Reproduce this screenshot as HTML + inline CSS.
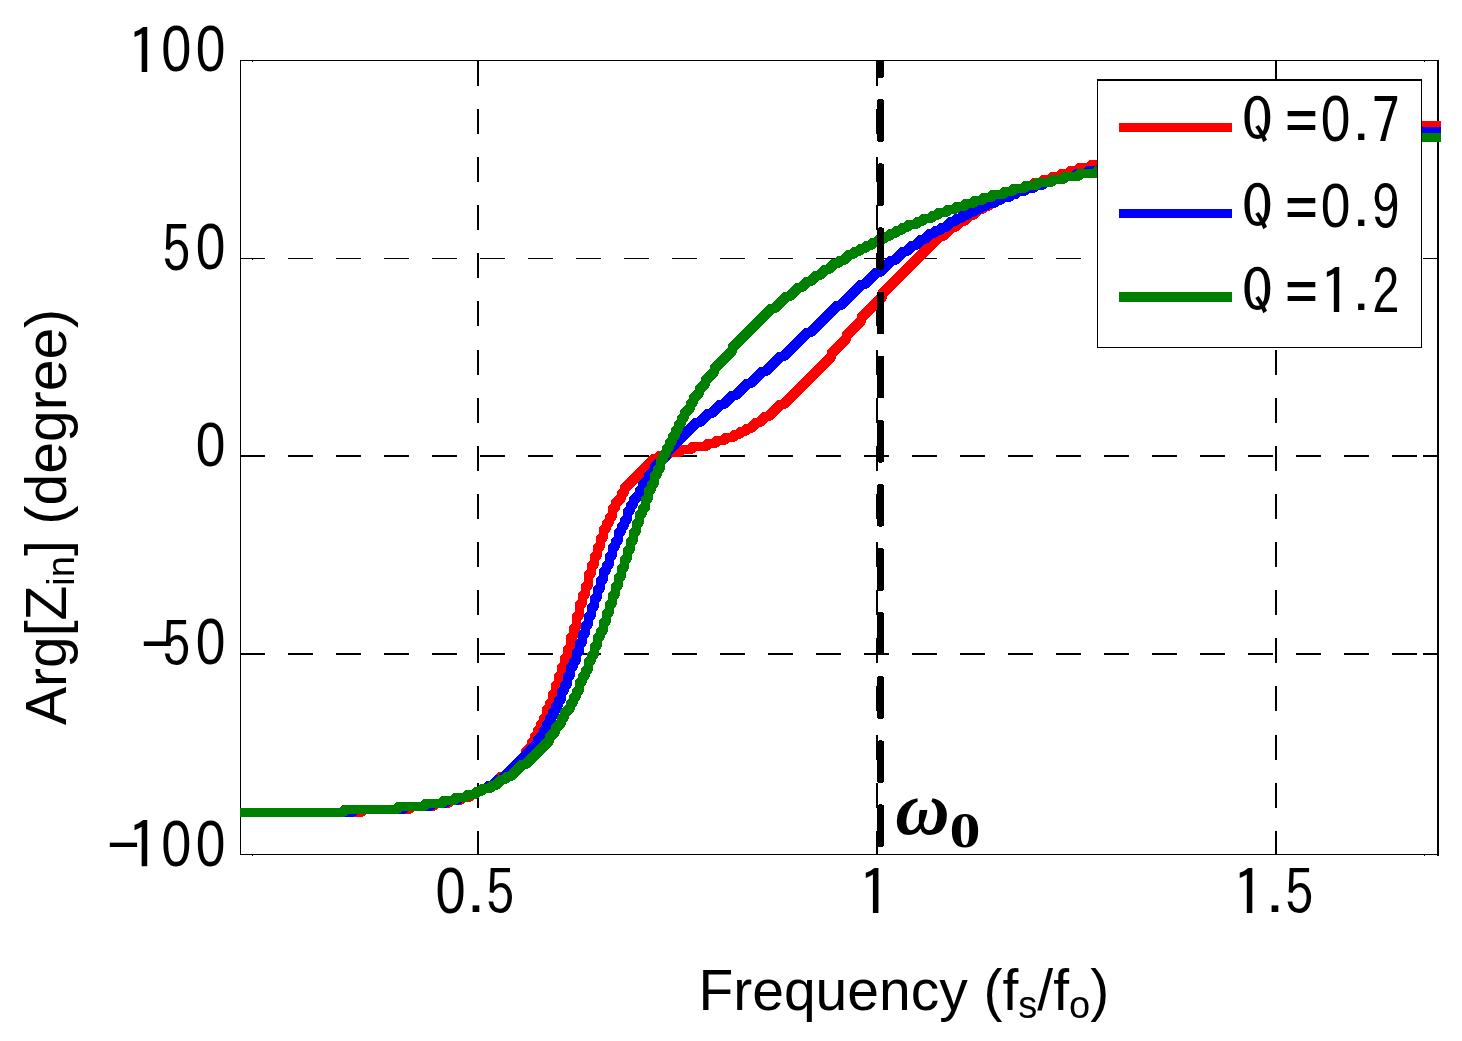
<!DOCTYPE html>
<html lang="en"><head><meta charset="utf-8"><title>Arg[Zin] vs Frequency</title>
<style>html,body{margin:0;padding:0;background:#fff;overflow:hidden}svg{display:block}</style></head>
<body>
<svg width="1462" height="1041" viewBox="0 0 1462 1041" shape-rendering="crispEdges">
<rect width="1462" height="1041" fill="#fff"/>
<g stroke="#000" fill="none">
<line x1="478" y1="60" x2="478" y2="854" stroke-width="2" stroke-dasharray="25 23.125" stroke-dashoffset="-0.8"/>
<line x1="877" y1="60" x2="877" y2="854" stroke-width="2" stroke-dasharray="25 23.125" stroke-dashoffset="-0.8"/>
<line x1="1276" y1="60" x2="1276" y2="854" stroke-width="2" stroke-dasharray="25 23.125" stroke-dashoffset="-0.8"/>
<line x1="240" y1="258.5" x2="1438" y2="258.5" stroke-width="1" stroke-dasharray="25 23"/>
<line x1="240" y1="456" x2="1438" y2="456" stroke-width="2" stroke-dasharray="25 23"/>
<line x1="240" y1="654" x2="1438" y2="654" stroke-width="2" stroke-dasharray="25 23"/>
<line x1="1423" y1="258.5" x2="1438" y2="258.5" stroke-width="1"/>
<line x1="1423" y1="456" x2="1438" y2="456" stroke-width="2"/>
<line x1="1423" y1="654" x2="1438" y2="654" stroke-width="2"/>
</g>
<g stroke="#000" fill="none">
<rect x="240.5" y="60.5" width="1197" height="794" stroke-width="1"/>
<line x1="1438" y1="60" x2="1438" y2="856" stroke-width="2"/>
<path d="M252 61h1v1h-1zM1424 61h1v1h-1zM252 855h1v1h-1zM1424 855h1v1h-1zM252 259h1v1h-1z" fill="#000" stroke="none"/>
</g>
<clipPath id="c"><rect x="240" y="61" width="1201" height="793"/></clipPath>
<g clip-path="url(#c)"><g transform="matrix(4.5700 0.5300 0.5300 4.5700 0 0)" fill="none" stroke-width="2" stroke-linejoin="round">
<polyline points="31.112,174.182 59.059,170.941 59.802,170.198 69.783,169.040 70.526,168.298 75.183,167.758 75.926,167.015 78.588,166.706 79.330,165.964 81.326,165.732 82.069,164.990 83.400,164.835 84.142,164.093 84.808,164.016 85.550,163.273 86.216,163.196 86.958,162.453 87.624,162.376 88.366,161.634 89.032,161.556 91.259,159.329 91.925,159.252 97.123,154.054 97.200,153.388 98.685,151.903 98.762,151.238 99.505,150.495 99.582,149.830 100.325,149.087 100.402,148.422 101.144,147.679 101.222,147.014 101.964,146.271 102.041,145.606 102.784,144.863 102.938,143.532 103.681,142.790 103.758,142.124 104.501,141.382 104.655,140.051 105.397,139.308 105.552,137.978 106.294,137.235 106.449,135.904 107.191,135.162 107.346,133.831 108.088,133.088 108.243,131.757 108.985,131.015 109.139,129.684 109.882,128.941 110.114,126.945 110.856,126.203 111.010,124.872 111.753,124.129 111.985,122.133 112.727,121.391 112.959,119.394 113.701,118.652 113.856,117.321 114.598,116.578 114.752,115.248 115.495,114.505 115.727,112.509 116.469,111.766 116.623,110.435 117.366,109.693 117.520,108.362 118.263,107.619 118.417,106.289 119.160,105.546 119.314,104.215 120.057,103.473 120.211,102.142 120.954,101.399 121.031,100.734 121.773,99.991 121.851,99.326 122.593,98.583 122.748,97.252 123.490,96.510 123.567,95.844 125.052,94.359 125.130,93.694 125.872,92.951 125.949,92.286 133.375,84.860 134.040,84.783 134.783,84.040 136.114,83.886 136.856,83.144 138.853,82.912 139.595,82.169 141.591,81.938 142.334,81.195 144.996,80.887 145.738,80.144 147.069,79.990 147.812,79.247 149.142,79.093 149.885,78.350 151.216,78.196 151.958,77.453 152.624,77.376 153.366,76.634 154.032,76.556 154.774,75.814 155.440,75.737 156.925,74.252 157.590,74.174 159.075,72.689 159.741,72.612 162.711,69.642 163.377,69.565 175.258,57.683 175.335,57.018 179.048,53.305 179.125,52.640 182.838,48.927 182.915,48.262 188.113,43.063 188.190,42.398 202.299,28.289 202.964,28.212 205.192,25.984 205.858,25.907 207.343,24.422 208.008,24.345 209.493,22.860 210.159,22.782 211.644,21.297 212.309,21.220 213.052,20.478 213.717,20.400 214.460,19.658 215.125,19.581 215.868,18.838 216.533,18.761 217.276,18.018 217.941,17.941 218.684,17.199 219.349,17.121 220.092,16.379 220.757,16.302 221.500,15.559 222.831,15.405 223.573,14.662 224.238,14.585 224.981,13.842 226.312,13.688 227.054,12.946 228.385,12.791 229.128,12.049 230.459,11.894 231.201,11.152 232.532,10.997 233.275,10.255 234.605,10.100 235.348,9.358 237.344,9.126 238.087,8.384 240.083,8.152 240.826,7.410 242.822,7.178 243.564,6.436 246.226,6.127 246.969,5.384 249.630,5.076 250.373,4.333 253.700,3.947 254.442,3.205 257.769,2.819 258.512,2.076 262.504,1.613 263.247,0.871 267.905,0.331 268.647,-0.412 274.636,-1.107 275.379,-1.849 281.367,-2.544 282.110,-3.286 289.429,-4.135 290.172,-4.878 299.487,-5.958 300.230,-6.701 311.542,-8.013 312.285,-8.755 317.608,-9.372" stroke="#ff0000" stroke-width="1.1" shape-rendering="geometricPrecision"/><polyline points="31.112,174.182 59.059,170.941 59.802,170.198 69.783,169.040 70.526,168.298 75.183,167.758 75.926,167.015 78.588,166.706 79.330,165.964 81.326,165.732 82.069,164.990 83.400,164.835 84.142,164.093 84.808,164.016 85.550,163.273 86.216,163.196 86.958,162.453 87.624,162.376 88.366,161.634 89.032,161.556 91.259,159.329 91.925,159.252 97.123,154.054 97.200,153.388 98.685,151.903 98.762,151.238 99.505,150.495 99.582,149.830 100.325,149.087 100.402,148.422 101.144,147.679 101.222,147.014 101.964,146.271 102.041,145.606 102.784,144.863 102.938,143.532 103.681,142.790 103.758,142.124 104.501,141.382 104.655,140.051 105.397,139.308 105.552,137.978 106.294,137.235 106.449,135.904 107.191,135.162 107.346,133.831 108.088,133.088 108.243,131.757 108.985,131.015 109.139,129.684 109.882,128.941 110.114,126.945 110.856,126.203 111.010,124.872 111.753,124.129 111.985,122.133 112.727,121.391 112.959,119.394 113.701,118.652 113.856,117.321 114.598,116.578 114.752,115.248 115.495,114.505 115.727,112.509 116.469,111.766 116.623,110.435 117.366,109.693 117.520,108.362 118.263,107.619 118.417,106.289 119.160,105.546 119.314,104.215 120.057,103.473 120.211,102.142 120.954,101.399 121.031,100.734 121.773,99.991 121.851,99.326 122.593,98.583 122.748,97.252 123.490,96.510 123.567,95.844 125.052,94.359 125.130,93.694 125.872,92.951 125.949,92.286 133.375,84.860 134.040,84.783 134.783,84.040 136.114,83.886 136.856,83.144 138.853,82.912 139.595,82.169 141.591,81.938 142.334,81.195 144.996,80.887 145.738,80.144 147.069,79.990 147.812,79.247 149.142,79.093 149.885,78.350 151.216,78.196 151.958,77.453 152.624,77.376 153.366,76.634 154.032,76.556 154.774,75.814 155.440,75.737 156.925,74.252 157.590,74.174 159.075,72.689 159.741,72.612 162.711,69.642 163.377,69.565 175.258,57.683 175.335,57.018 179.048,53.305 179.125,52.640 182.838,48.927 182.915,48.262 188.113,43.063 188.190,42.398 202.299,28.289 202.964,28.212 205.192,25.984 205.858,25.907 207.343,24.422 208.008,24.345 209.493,22.860 210.159,22.782 211.644,21.297 212.309,21.220 213.052,20.478 213.717,20.400 214.460,19.658 215.125,19.581 215.868,18.838 216.533,18.761 217.276,18.018 217.941,17.941 218.684,17.199 219.349,17.121 220.092,16.379 220.757,16.302 221.500,15.559 222.831,15.405 223.573,14.662 224.238,14.585 224.981,13.842 226.312,13.688 227.054,12.946 228.385,12.791 229.128,12.049 230.459,11.894 231.201,11.152 232.532,10.997 233.275,10.255 234.605,10.100 235.348,9.358 237.344,9.126 238.087,8.384 240.083,8.152 240.826,7.410 242.822,7.178 243.564,6.436 246.226,6.127 246.969,5.384 249.630,5.076 250.373,4.333 253.700,3.947 254.442,3.205 257.769,2.819 258.512,2.076 262.504,1.613 263.247,0.871 267.905,0.331 268.647,-0.412 274.636,-1.107 275.379,-1.849 281.367,-2.544 282.110,-3.286 289.429,-4.135 290.172,-4.878 299.487,-5.958 300.230,-6.701 311.542,-8.013 312.285,-8.755 317.608,-9.372" stroke="#ff0000"/>
<polyline points="31.112,174.182 57.063,171.172 57.806,170.430 68.452,169.195 69.195,168.452 74.518,167.835 75.261,167.092 77.922,166.784 78.665,166.041 80.661,165.810 81.404,165.067 82.734,164.913 83.477,164.170 84.808,164.016 85.550,163.273 86.216,163.196 86.958,162.453 87.624,162.376 88.366,161.634 89.032,161.556 90.517,160.071 91.182,159.994 100.093,151.083 100.170,150.418 101.656,148.933 101.733,148.267 102.475,147.525 102.552,146.859 103.295,146.117 103.372,145.451 104.115,144.709 104.192,144.043 104.934,143.301 105.012,142.635 105.754,141.893 105.831,141.227 106.574,140.485 106.728,139.154 107.471,138.411 107.548,137.746 108.291,137.003 108.445,135.673 109.188,134.930 109.342,133.599 110.084,132.857 110.162,132.191 110.904,131.449 111.059,130.118 111.801,129.375 111.955,128.045 112.698,127.302 112.852,125.971 113.595,125.229 113.749,123.898 114.492,123.155 114.646,121.824 115.389,121.082 115.543,119.751 116.286,119.008 116.440,117.678 117.183,116.935 117.337,115.604 118.079,114.862 118.234,113.531 118.976,112.788 119.131,111.457 119.873,110.715 119.950,110.050 120.693,109.307 120.847,107.976 121.590,107.234 121.744,105.903 122.487,105.160 122.564,104.495 123.307,103.752 123.461,102.421 124.204,101.679 124.281,101.013 125.023,100.271 125.100,99.605 125.843,98.863 125.997,97.532 126.740,96.789 126.817,96.124 127.560,95.381 127.637,94.716 129.122,93.231 129.199,92.566 129.942,91.823 130.019,91.158 131.504,89.672 131.581,89.007 133.066,87.522 133.144,86.856 136.114,83.886 136.191,83.221 143.617,75.795 144.282,75.718 146.510,73.490 147.175,73.413 149.403,71.185 150.068,71.108 152.296,68.880 152.962,68.803 155.932,65.833 156.597,65.756 159.568,62.785 160.233,62.708 163.946,58.995 164.611,58.918 170.552,52.978 171.217,52.900 177.900,46.217 178.566,46.140 183.764,40.942 184.429,40.865 187.400,37.895 188.065,37.817 191.035,34.847 191.701,34.770 193.928,32.542 194.594,32.465 196.079,30.980 196.744,30.903 198.229,29.418 198.895,29.340 200.380,27.855 201.045,27.778 201.788,27.036 202.453,26.958 203.196,26.216 203.861,26.139 205.347,24.653 206.012,24.576 206.755,23.834 207.420,23.757 208.162,23.014 208.828,22.937 209.570,22.194 210.236,22.117 210.978,21.374 211.644,21.297 212.386,20.555 213.052,20.478 213.794,19.735 215.125,19.581 215.868,18.838 216.533,18.761 217.276,18.018 218.607,17.864 219.349,17.121 220.015,17.044 220.757,16.302 222.088,16.147 222.831,15.405 224.161,15.250 224.904,14.508 226.235,14.354 226.977,13.611 228.308,13.457 229.051,12.714 231.047,12.483 231.789,11.740 233.786,11.508 234.528,10.766 236.524,10.534 237.267,9.792 239.263,9.560 240.006,8.818 242.002,8.586 242.745,7.844 245.406,7.535 246.149,6.792 249.476,6.407 250.218,5.664 252.880,5.355 253.623,4.613 257.615,4.150 258.358,3.407 262.350,2.944 263.093,2.202 267.750,1.661 268.493,0.919 273.816,0.301 274.559,-0.441 280.547,-1.136 281.290,-1.878 287.944,-2.650 288.687,-3.393 296.672,-4.319 297.414,-5.061 307.395,-6.219 308.138,-6.961 317.453,-8.042" stroke="#0000ff" stroke-width="1.1" shape-rendering="geometricPrecision"/><polyline points="31.112,174.182 57.063,171.172 57.806,170.430 68.452,169.195 69.195,168.452 74.518,167.835 75.261,167.092 77.922,166.784 78.665,166.041 80.661,165.810 81.404,165.067 82.734,164.913 83.477,164.170 84.808,164.016 85.550,163.273 86.216,163.196 86.958,162.453 87.624,162.376 88.366,161.634 89.032,161.556 90.517,160.071 91.182,159.994 100.093,151.083 100.170,150.418 101.656,148.933 101.733,148.267 102.475,147.525 102.552,146.859 103.295,146.117 103.372,145.451 104.115,144.709 104.192,144.043 104.934,143.301 105.012,142.635 105.754,141.893 105.831,141.227 106.574,140.485 106.728,139.154 107.471,138.411 107.548,137.746 108.291,137.003 108.445,135.673 109.188,134.930 109.342,133.599 110.084,132.857 110.162,132.191 110.904,131.449 111.059,130.118 111.801,129.375 111.955,128.045 112.698,127.302 112.852,125.971 113.595,125.229 113.749,123.898 114.492,123.155 114.646,121.824 115.389,121.082 115.543,119.751 116.286,119.008 116.440,117.678 117.183,116.935 117.337,115.604 118.079,114.862 118.234,113.531 118.976,112.788 119.131,111.457 119.873,110.715 119.950,110.050 120.693,109.307 120.847,107.976 121.590,107.234 121.744,105.903 122.487,105.160 122.564,104.495 123.307,103.752 123.461,102.421 124.204,101.679 124.281,101.013 125.023,100.271 125.100,99.605 125.843,98.863 125.997,97.532 126.740,96.789 126.817,96.124 127.560,95.381 127.637,94.716 129.122,93.231 129.199,92.566 129.942,91.823 130.019,91.158 131.504,89.672 131.581,89.007 133.066,87.522 133.144,86.856 136.114,83.886 136.191,83.221 143.617,75.795 144.282,75.718 146.510,73.490 147.175,73.413 149.403,71.185 150.068,71.108 152.296,68.880 152.962,68.803 155.932,65.833 156.597,65.756 159.568,62.785 160.233,62.708 163.946,58.995 164.611,58.918 170.552,52.978 171.217,52.900 177.900,46.217 178.566,46.140 183.764,40.942 184.429,40.865 187.400,37.895 188.065,37.817 191.035,34.847 191.701,34.770 193.928,32.542 194.594,32.465 196.079,30.980 196.744,30.903 198.229,29.418 198.895,29.340 200.380,27.855 201.045,27.778 201.788,27.036 202.453,26.958 203.196,26.216 203.861,26.139 205.347,24.653 206.012,24.576 206.755,23.834 207.420,23.757 208.162,23.014 208.828,22.937 209.570,22.194 210.236,22.117 210.978,21.374 211.644,21.297 212.386,20.555 213.052,20.478 213.794,19.735 215.125,19.581 215.868,18.838 216.533,18.761 217.276,18.018 218.607,17.864 219.349,17.121 220.015,17.044 220.757,16.302 222.088,16.147 222.831,15.405 224.161,15.250 224.904,14.508 226.235,14.354 226.977,13.611 228.308,13.457 229.051,12.714 231.047,12.483 231.789,11.740 233.786,11.508 234.528,10.766 236.524,10.534 237.267,9.792 239.263,9.560 240.006,8.818 242.002,8.586 242.745,7.844 245.406,7.535 246.149,6.792 249.476,6.407 250.218,5.664 252.880,5.355 253.623,4.613 257.615,4.150 258.358,3.407 262.350,2.944 263.093,2.202 267.750,1.661 268.493,0.919 273.816,0.301 274.559,-0.441 280.547,-1.136 281.290,-1.878 287.944,-2.650 288.687,-3.393 296.672,-4.319 297.414,-5.061 307.395,-6.219 308.138,-6.961 317.453,-8.042" stroke="#0000ff"/>
<polyline points="31.112,174.182 55.067,171.404 55.810,170.661 67.121,169.349 67.864,168.607 73.187,167.989 73.930,167.247 77.257,166.861 77.999,166.118 79.996,165.887 80.738,165.144 82.734,164.913 83.477,164.170 84.808,164.016 85.550,163.273 86.216,163.196 86.958,162.453 88.289,162.299 89.032,161.556 89.697,161.479 91.182,159.994 91.848,159.917 92.590,159.174 93.256,159.097 96.226,156.127 96.891,156.050 102.832,150.109 102.909,149.444 104.394,147.959 104.471,147.293 105.957,145.808 106.034,145.143 106.776,144.400 106.854,143.735 108.339,142.250 108.416,141.584 109.158,140.842 109.236,140.176 109.978,139.434 110.055,138.768 110.798,138.026 110.952,136.695 111.695,135.952 111.772,135.287 112.515,134.544 112.592,133.879 113.334,133.136 113.489,131.805 114.231,131.063 114.308,130.397 115.051,129.655 115.205,128.324 115.948,127.582 116.102,126.251 116.845,125.508 116.922,124.843 117.665,124.100 117.819,122.769 118.561,122.027 118.716,120.696 119.458,119.953 119.613,118.623 120.355,117.880 120.510,116.549 121.252,115.807 121.407,114.476 122.149,113.733 122.303,112.402 123.046,111.660 123.200,110.329 123.943,109.586 124.097,108.256 124.840,107.513 124.994,106.182 125.737,105.440 125.891,104.109 126.634,103.366 126.788,102.036 127.531,101.293 127.685,99.962 128.427,99.220 128.582,97.889 129.324,97.146 129.402,96.481 130.144,95.738 130.298,94.407 131.041,93.665 131.195,92.334 131.938,91.591 132.015,90.926 132.758,90.183 132.912,88.853 133.655,88.110 133.732,87.445 134.474,86.702 134.629,85.371 135.371,84.629 135.448,83.963 136.191,83.221 136.268,82.555 137.011,81.813 137.088,81.147 137.831,80.405 137.908,79.739 138.650,78.997 138.727,78.331 139.470,77.589 139.547,76.923 140.290,76.181 140.367,75.515 141.109,74.773 141.187,74.107 142.672,72.622 142.749,71.957 143.492,71.214 143.569,70.549 145.054,69.064 145.131,68.398 146.616,66.913 146.693,66.248 148.921,64.020 148.998,63.355 153.454,58.899 153.531,58.234 163.184,48.580 163.850,48.503 166.820,45.533 167.485,45.456 169.713,43.228 170.379,43.151 171.864,41.666 172.529,41.589 174.014,40.103 174.680,40.026 176.165,38.541 176.830,38.464 178.315,36.979 178.981,36.902 179.723,36.159 180.389,36.082 181.874,34.597 182.539,34.520 183.282,33.777 183.947,33.700 184.690,32.957 185.355,32.880 186.098,32.137 186.763,32.060 187.506,31.318 188.171,31.241 188.914,30.498 189.579,30.421 190.322,29.678 190.987,29.601 191.730,28.858 192.395,28.781 193.138,28.039 193.803,27.962 194.546,27.219 195.211,27.142 195.954,26.399 197.285,26.245 198.027,25.502 198.692,25.425 199.435,24.683 200.766,24.528 201.508,23.786 202.174,23.709 202.916,22.966 204.247,22.812 204.990,22.069 206.321,21.915 207.063,21.172 208.394,21.018 209.137,20.275 210.467,20.121 211.210,19.378 212.541,19.224 213.283,18.481 214.614,18.327 215.357,17.584 217.353,17.353 218.096,16.610 219.426,16.456 220.169,15.713 222.165,15.482 222.908,14.739 224.904,14.508 225.646,13.765 228.308,13.457 229.051,12.714 231.047,12.483 231.789,11.740 234.451,11.431 235.194,10.689 238.521,10.303 239.263,9.560 241.925,9.252 242.667,8.509 245.994,8.123 246.737,7.381 250.729,6.918 251.472,6.175 255.464,5.712 256.207,4.969 260.865,4.429 261.607,3.687 266.265,3.146 267.008,2.404 272.997,1.709 273.739,0.967 280.393,0.195 281.136,-0.547 288.455,-1.396 289.198,-2.139 297.183,-3.065 297.925,-3.808 307.906,-4.965 308.649,-5.708 317.299,-6.711" stroke="#008000" stroke-width="1.1" shape-rendering="geometricPrecision"/><polyline points="31.112,174.182 55.067,171.404 55.810,170.661 67.121,169.349 67.864,168.607 73.187,167.989 73.930,167.247 77.257,166.861 77.999,166.118 79.996,165.887 80.738,165.144 82.734,164.913 83.477,164.170 84.808,164.016 85.550,163.273 86.216,163.196 86.958,162.453 88.289,162.299 89.032,161.556 89.697,161.479 91.182,159.994 91.848,159.917 92.590,159.174 93.256,159.097 96.226,156.127 96.891,156.050 102.832,150.109 102.909,149.444 104.394,147.959 104.471,147.293 105.957,145.808 106.034,145.143 106.776,144.400 106.854,143.735 108.339,142.250 108.416,141.584 109.158,140.842 109.236,140.176 109.978,139.434 110.055,138.768 110.798,138.026 110.952,136.695 111.695,135.952 111.772,135.287 112.515,134.544 112.592,133.879 113.334,133.136 113.489,131.805 114.231,131.063 114.308,130.397 115.051,129.655 115.205,128.324 115.948,127.582 116.102,126.251 116.845,125.508 116.922,124.843 117.665,124.100 117.819,122.769 118.561,122.027 118.716,120.696 119.458,119.953 119.613,118.623 120.355,117.880 120.510,116.549 121.252,115.807 121.407,114.476 122.149,113.733 122.303,112.402 123.046,111.660 123.200,110.329 123.943,109.586 124.097,108.256 124.840,107.513 124.994,106.182 125.737,105.440 125.891,104.109 126.634,103.366 126.788,102.036 127.531,101.293 127.685,99.962 128.427,99.220 128.582,97.889 129.324,97.146 129.402,96.481 130.144,95.738 130.298,94.407 131.041,93.665 131.195,92.334 131.938,91.591 132.015,90.926 132.758,90.183 132.912,88.853 133.655,88.110 133.732,87.445 134.474,86.702 134.629,85.371 135.371,84.629 135.448,83.963 136.191,83.221 136.268,82.555 137.011,81.813 137.088,81.147 137.831,80.405 137.908,79.739 138.650,78.997 138.727,78.331 139.470,77.589 139.547,76.923 140.290,76.181 140.367,75.515 141.109,74.773 141.187,74.107 142.672,72.622 142.749,71.957 143.492,71.214 143.569,70.549 145.054,69.064 145.131,68.398 146.616,66.913 146.693,66.248 148.921,64.020 148.998,63.355 153.454,58.899 153.531,58.234 163.184,48.580 163.850,48.503 166.820,45.533 167.485,45.456 169.713,43.228 170.379,43.151 171.864,41.666 172.529,41.589 174.014,40.103 174.680,40.026 176.165,38.541 176.830,38.464 178.315,36.979 178.981,36.902 179.723,36.159 180.389,36.082 181.874,34.597 182.539,34.520 183.282,33.777 183.947,33.700 184.690,32.957 185.355,32.880 186.098,32.137 186.763,32.060 187.506,31.318 188.171,31.241 188.914,30.498 189.579,30.421 190.322,29.678 190.987,29.601 191.730,28.858 192.395,28.781 193.138,28.039 193.803,27.962 194.546,27.219 195.211,27.142 195.954,26.399 197.285,26.245 198.027,25.502 198.692,25.425 199.435,24.683 200.766,24.528 201.508,23.786 202.174,23.709 202.916,22.966 204.247,22.812 204.990,22.069 206.321,21.915 207.063,21.172 208.394,21.018 209.137,20.275 210.467,20.121 211.210,19.378 212.541,19.224 213.283,18.481 214.614,18.327 215.357,17.584 217.353,17.353 218.096,16.610 219.426,16.456 220.169,15.713 222.165,15.482 222.908,14.739 224.904,14.508 225.646,13.765 228.308,13.457 229.051,12.714 231.047,12.483 231.789,11.740 234.451,11.431 235.194,10.689 238.521,10.303 239.263,9.560 241.925,9.252 242.667,8.509 245.994,8.123 246.737,7.381 250.729,6.918 251.472,6.175 255.464,5.712 256.207,4.969 260.865,4.429 261.607,3.687 266.265,3.146 267.008,2.404 272.997,1.709 273.739,0.967 280.393,0.195 281.136,-0.547 288.455,-1.396 289.198,-2.139 297.183,-3.065 297.925,-3.808 307.906,-4.965 308.649,-5.708 317.299,-6.711" stroke="#008000"/>
</g></g>
<g fill="#000">
<rect x="877" y="61" width="7" height="16.8" rx="2" ry="2"/>
<rect x="877" y="99.2" width="7" height="42.8" rx="2.2" ry="2.2"/>
<rect x="877" y="163.3" width="7" height="42.8" rx="2.2" ry="2.2"/>
<rect x="877" y="227.4" width="7" height="42.8" rx="2.2" ry="2.2"/>
<rect x="877" y="291.5" width="7" height="42.8" rx="2.2" ry="2.2"/>
<rect x="877" y="355.6" width="7" height="42.8" rx="2.2" ry="2.2"/>
<rect x="877" y="419.8" width="7" height="42.8" rx="2.2" ry="2.2"/>
<rect x="877" y="483.9" width="7" height="42.8" rx="2.2" ry="2.2"/>
<rect x="877" y="548.0" width="7" height="42.8" rx="2.2" ry="2.2"/>
<rect x="877" y="612.1" width="7" height="42.8" rx="2.2" ry="2.2"/>
<rect x="877" y="676.2" width="7" height="42.8" rx="2.2" ry="2.2"/>
<rect x="877" y="740.3" width="7" height="42.8" rx="2.2" ry="2.2"/>
<rect x="877" y="804.4" width="7" height="42.8" rx="2.2" ry="2.2"/>
</g>
<rect x="1097" y="79" width="325" height="269" fill="#000"/>
<rect x="1098" y="81" width="323" height="266" fill="#fff"/>
<rect x="1119" y="123" width="113" height="9" fill="#ff0000"/>
<rect x="1119" y="209" width="113" height="9" fill="#0000ff"/>
<rect x="1119" y="292" width="113" height="10" fill="#008000"/>
<text font-family="IPAGothic, 'Noto Sans CJK JP', monospace" font-size="61.2"><tspan x="126.58" y="75.39" font-size="64.84" textLength="33.96" lengthAdjust="spacingAndGlyphs">1</tspan><tspan x="161.28" y="71.47" font-family="'Liberation Sans', sans-serif" font-size="64.12" textLength="30.13" lengthAdjust="spacingAndGlyphs">0</tspan><tspan x="195.72" y="71.47" font-family="'Liberation Sans', sans-serif" font-size="64.12" textLength="29.67" lengthAdjust="spacingAndGlyphs">0</tspan></text>
<text font-family="IPAGothic, 'Noto Sans CJK JP', monospace" font-size="61.2"><tspan x="161.83" y="272.04" font-size="63.18" textLength="29.01" lengthAdjust="spacingAndGlyphs">5</tspan><tspan x="195.72" y="269.47" font-family="'Liberation Sans', sans-serif" font-size="64.26" textLength="29.67" lengthAdjust="spacingAndGlyphs">0</tspan></text>
<text font-family="IPAGothic, 'Noto Sans CJK JP', monospace" font-size="61.2"><tspan x="195.72" y="466.28" font-family="'Liberation Sans', sans-serif" font-size="63.84" textLength="29.67" lengthAdjust="spacingAndGlyphs">0</tspan></text>
<text font-family="IPAGothic, 'Noto Sans CJK JP', monospace" font-size="61.2"><tspan x="140.51" y="668.36" font-size="64.09" textLength="33.72" lengthAdjust="spacingAndGlyphs">-</tspan><tspan x="161.83" y="667.03" font-size="62.90" textLength="29.01" lengthAdjust="spacingAndGlyphs">5</tspan><tspan x="195.72" y="664.48" font-family="'Liberation Sans', sans-serif" font-size="63.98" textLength="29.67" lengthAdjust="spacingAndGlyphs">0</tspan></text>
<text font-family="IPAGothic, 'Noto Sans CJK JP', monospace" font-size="61.2"><tspan x="106.48" y="867.72" font-size="59.91" textLength="33.97" lengthAdjust="spacingAndGlyphs">-</tspan><tspan x="126.58" y="869.51" font-size="65.12" textLength="33.96" lengthAdjust="spacingAndGlyphs">1</tspan><tspan x="161.28" y="865.57" font-family="'Liberation Sans', sans-serif" font-size="64.41" textLength="30.13" lengthAdjust="spacingAndGlyphs">0</tspan><tspan x="195.72" y="865.57" font-family="'Liberation Sans', sans-serif" font-size="64.41" textLength="29.67" lengthAdjust="spacingAndGlyphs">0</tspan></text>
<text font-family="IPAGothic, 'Noto Sans CJK JP', monospace" font-size="61.2"><tspan x="435.38" y="912.58" font-family="'Liberation Sans', sans-serif" font-size="63.98" textLength="30.13" lengthAdjust="spacingAndGlyphs">0</tspan><tspan x="468.00" y="912.40" font-size="50.08">.</tspan><tspan x="485.51" y="915.13" font-size="62.90" textLength="29.13" lengthAdjust="spacingAndGlyphs">5</tspan></text>
<text font-family="IPAGothic, 'Noto Sans CJK JP', monospace" font-size="61.2"><tspan x="857.68" y="916.49" font-size="64.70" textLength="33.96" lengthAdjust="spacingAndGlyphs">1</tspan></text>
<text font-family="IPAGothic, 'Noto Sans CJK JP', monospace" font-size="61.2"><tspan x="1231.84" y="916.49" font-size="64.70" textLength="33.69" lengthAdjust="spacingAndGlyphs">1</tspan><tspan x="1267.10" y="912.40" font-size="50.08">.</tspan><tspan x="1284.60" y="915.13" font-size="62.90" textLength="29.26" lengthAdjust="spacingAndGlyphs">5</tspan></text>
<text font-family="IPAGothic, 'Noto Sans CJK JP', monospace" font-size="61.2"><tspan x="1241.49" y="141.28" font-size="58.85" textLength="31.72" lengthAdjust="spacingAndGlyphs">Q</tspan><tspan> </tspan><tspan x="1284.23" y="147.99" font-size="73.14" textLength="34.47" lengthAdjust="spacingAndGlyphs">=</tspan><tspan x="1320.82" y="140.58" font-family="'Liberation Sans', sans-serif" font-size="63.98" textLength="29.67" lengthAdjust="spacingAndGlyphs">0</tspan><tspan x="1353.68" y="139.62" font-size="47.09">.</tspan><tspan x="1371.69" y="144.49" font-size="64.70" textLength="28.26" lengthAdjust="spacingAndGlyphs">7</tspan></text>
<text font-family="IPAGothic, 'Noto Sans CJK JP', monospace" font-size="61.2"><tspan x="1241.49" y="227.98" font-size="58.73" textLength="31.72" lengthAdjust="spacingAndGlyphs">Q</tspan><tspan> </tspan><tspan x="1284.23" y="234.79" font-size="73.14" textLength="34.47" lengthAdjust="spacingAndGlyphs">=</tspan><tspan x="1320.82" y="227.28" font-family="'Liberation Sans', sans-serif" font-size="63.84" textLength="29.67" lengthAdjust="spacingAndGlyphs">0</tspan><tspan x="1353.68" y="226.32" font-size="47.09">.</tspan><tspan x="1371.41" y="229.78" font-size="61.06" textLength="28.47" lengthAdjust="spacingAndGlyphs">9</tspan></text>
<text font-family="IPAGothic, 'Noto Sans CJK JP', monospace" font-size="61.2"><tspan x="1241.49" y="311.98" font-size="58.60" textLength="31.72" lengthAdjust="spacingAndGlyphs">Q</tspan><tspan> </tspan><tspan x="1284.23" y="318.89" font-size="73.14" textLength="34.47" lengthAdjust="spacingAndGlyphs">=</tspan><tspan x="1318.97" y="315.17" font-size="64.41" textLength="33.15" lengthAdjust="spacingAndGlyphs">1</tspan><tspan x="1353.68" y="310.32" font-size="47.09">.</tspan><tspan x="1372.37" y="315.08" font-size="62.71" textLength="27.29" lengthAdjust="spacingAndGlyphs">2</tspan></text>
<text font-family="'Liberation Serif', 'DejaVu Serif', serif" font-weight="bold"><tspan x="895.32" y="834.06" font-size="75.3" font-style="italic">ω</tspan><tspan x="949.54" y="847.30" font-size="51.7" textLength="31" lengthAdjust="spacingAndGlyphs">0</tspan></text>
<text x="698.4" y="1009.8" font-family="'Liberation Sans', Arial, sans-serif" font-size="57">Frequency (f<tspan font-size="38" dy="7.7">s</tspan><tspan dy="-7.7">/f</tspan><tspan font-size="38" dy="7.7">o</tspan><tspan dy="-7.7">)</tspan></text>
<text transform="translate(66.1,725) rotate(-90)" x="0" y="0" font-family="'Liberation Sans', Arial, sans-serif" font-size="57">Arg[Z<tspan font-size="38" dy="8.1">in</tspan><tspan dy="-8.1">] (degree)</tspan></text>
</svg>
</body></html>
